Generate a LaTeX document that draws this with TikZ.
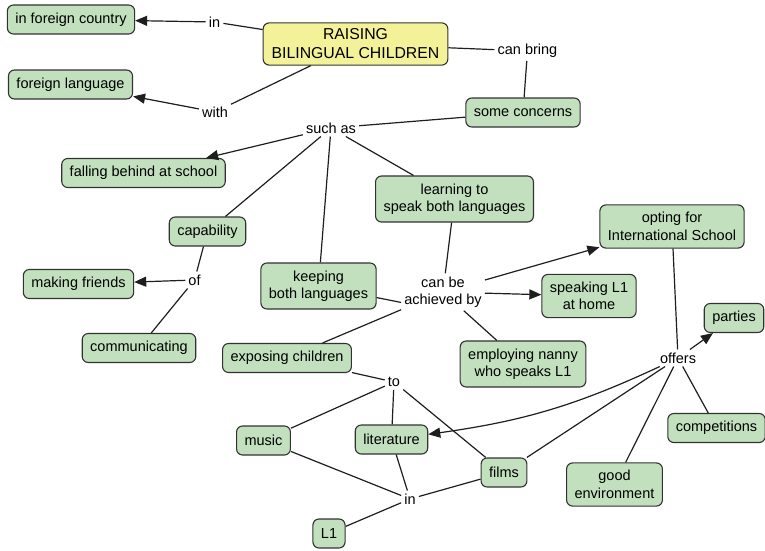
\documentclass[tikz,border=0pt]{standalone}
\usepackage{fontspec}
\setmainfont{Liberation Sans}
\usetikzlibrary{arrows.meta}
\definecolor{cgreen}{RGB}{194,224,190}
\definecolor{cyellow}{RGB}{243,242,152}
\definecolor{cborder}{RGB}{50,50,50}
\definecolor{cline}{RGB}{30,30,30}
\tikzset{
  concept/.style={draw=cborder, fill=cgreen, line width=1.1pt, rounded corners=6pt, align=center,
    inner xsep=8pt, inner ysep=7.5pt, minimum height=29pt, font=\fontsize{14.5}{17.5}\selectfont, text=black},
  mainc/.style={concept, fill=cyellow, inner xsep=8.5pt, inner ysep=6pt, font=\fontsize{15.8}{19}\selectfont},
  linkw/.style={inner sep=3pt, align=center, font=\fontsize{14.5}{17.5}\selectfont, text=black},
  conn/.style={draw=cline, line width=1.2pt},
  arr/.style={conn, -{Triangle[length=12pt,width=10pt]}},
}
\begin{document}
\begin{tikzpicture}[x=1pt,y=-1pt]
\useasboundingbox (0,0) rectangle (765,551);
% concepts
\node[mainc] (main) at (355.5,44) {RAISING\\BILINGUAL CHILDREN};
\node[concept] (ifc) at (71,19.5) {in foreign country};
\node[concept] (fl) at (70.5,84.5) {foreign language};
\node[concept] (sc) at (523,112.5) {some concerns};
\node[concept] (fall) at (143.5,173) {falling behind at school};
\node[concept] (learn) at (454.5,199) {learning to\\speak both languages};
\node[concept] (cap) at (207.5,231.5) {capability};
\node[concept] (mf) at (78.5,284) {making friends};
\node[concept] (comm) at (139,348) {communicating};
\node[concept] (keep) at (318.5,286) {keeping\\both languages};
\node[concept] (expo) at (287,358) {exposing children};
\node[concept] (opt) at (672,226.5) {opting for\\International School};
\node[concept] (spk) at (589,296) {speaking L1\\at home};
\node[concept] (part) at (734,318) {parties};
\node[concept] (nanny) at (523,364) {employing nanny\\who speaks L1};
\node[concept] (comp) at (716.5,428) {competitions};
\node[concept] (env) at (614.5,484.5) {good\\environment};
\node[concept] (music) at (263.5,440.5) {music};
\node[concept] (lit) at (391.5,439.5) {literature};
\node[concept] (films) at (504,472.5) {films};
\node[concept] (lone) at (329,533.5) {L1};
% linking phrases
\node[linkw] (lin) at (214.5,22) {in};
\node[linkw] (lwith) at (215,112) {with};
\node[linkw] (lbring) at (527.5,51) {can bring};
\node[linkw] (lsuch) at (331,128) {such as};
\node[linkw] (lof) at (194.5,280) {of};
\node[linkw] (lach) at (443,292) {can be\\achieved by};
\node[linkw] (loff) at (678,358) {offers};
\node[linkw] (lto) at (394,382) {to};
\node[linkw] (lin2) at (410,499) {in};
% connectors
\draw[conn] (main) -- (lin);
\draw[arr] (lin) -- (ifc);
\draw[conn] (main) -- (lwith);
\draw[arr] (lwith) -- (fl);
\draw[conn] (main) -- (lbring);
\draw[conn] (lbring) -- (sc);
\draw[conn] (sc) -- (lsuch);
\draw[arr] (lsuch) -- (fall);
\draw[conn] (lsuch) -- (cap);
\draw[conn] (lsuch) -- (keep);
\draw[conn] (lsuch) -- (learn);
\draw[conn] (cap) -- (lof);
\draw[arr] (lof) -- (mf);
\draw[conn] (lof) -- (comm);
\draw[conn] (learn) -- (lach);
\draw[conn] (keep) -- (lach.194);
\draw[conn] (expo) -- (lach);
\draw[arr] (lach) -- (opt);
\draw[arr] (lach) -- (spk);
\draw[conn] (lach) -- (nanny);
\draw[conn] (opt) -- (loff);
\draw[arr] (loff) -- (part);
\draw[arr] (loff) to[out=205,in=8] (lit);
\draw[conn] (loff) -- (films);
\draw[conn] (loff) -- (env);
\draw[conn] (loff) -- (comp);
\draw[conn] (expo) -- (lto);
\draw[conn] (lto) -- (music);
\draw[conn] (lto) -- (lit);
\draw[conn] (lto) -- (films);
\draw[conn] (music) -- (lin2);
\draw[conn] (lit) -- (lin2);
\draw[conn] (films) -- (lin2);
\draw[conn] (lin2) -- (lone);
\end{tikzpicture}
\end{document}
